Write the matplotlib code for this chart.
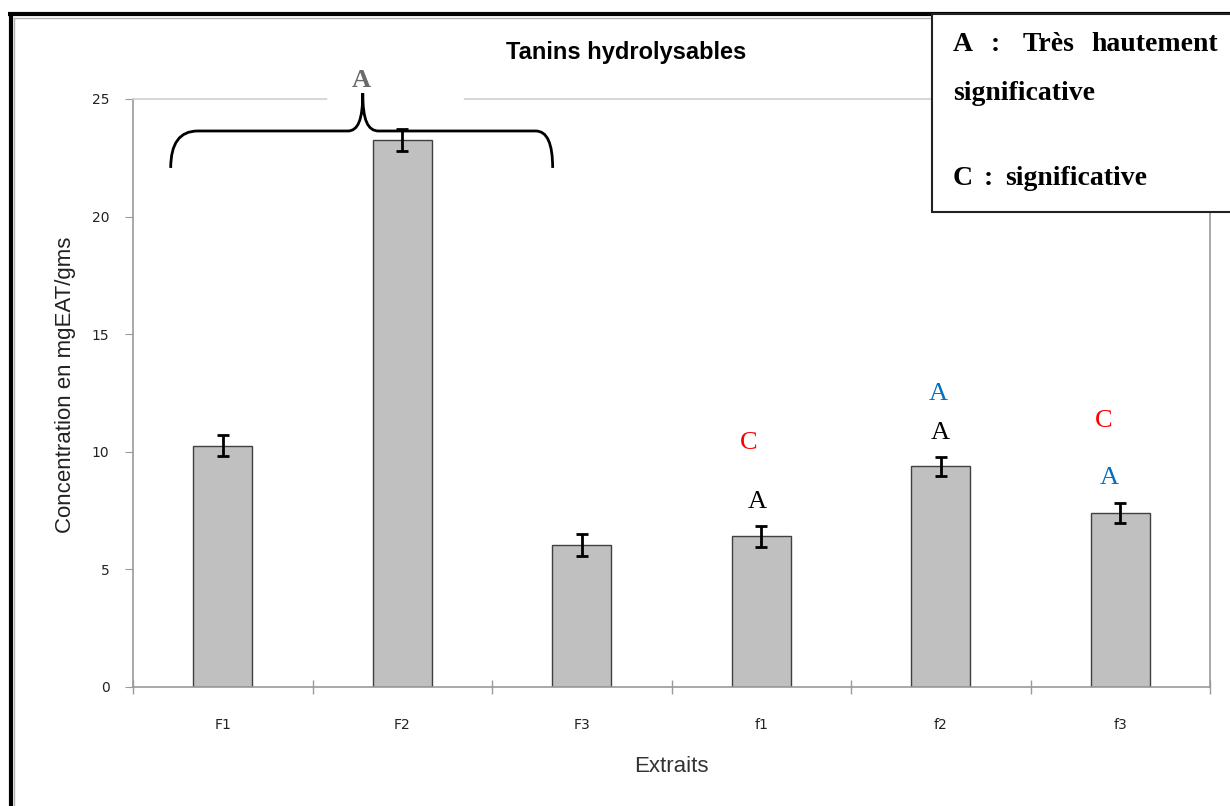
import numpy as np
import matplotlib
matplotlib.use("Agg")
import matplotlib.pyplot as plt
from matplotlib.lines import Line2D
from matplotlib.patches import Rectangle, PathPatch
from matplotlib.path import Path

# ---- data ----
extraits = ["F1", "F2", "F3", "f1", "f2", "f3"]
concentration = [10.26, 23.26, 6.04, 6.40, 9.38, 7.41]
erreur = [0.45, 0.45, 0.48, 0.45, 0.42, 0.43]

# significance letters above the f-extracts: (category index, letter, colour key)
lettres = [
    (3, "A", "noir"), (3, "C", "rouge"),
    (4, "A", "noir"), (4, "A", "bleu"),
    (5, "A", "bleu"), (5, "C", "rouge"),
]

COULEURS = {"noir": "black", "rouge": "#ff0000", "bleu": "#0070c0"}
# offsets (x in categories, y in mg) of each letter above the bar top
DECALAGES = [(-0.02, 1.47), (-0.07, 3.97), (-0.005, 1.42), (-0.015, 3.08),
             (-0.06, 1.48), (-0.09, 3.90)]

W, H = 1230, 806
fx = lambda px: px / W
fy = lambda py: 1 - py / H

fig = plt.figure(figsize=(W / 100, H / 100), dpi=100)
ax = fig.add_axes([fx(133), fy(687), (1210 - 133) / W, (687 - 99) / H])

pos = np.arange(len(extraits))
ax.bar(pos, concentration, width=0.33, color="#c0c0c0", edgecolor="#404040",
       linewidth=1.0, zorder=2)
ax.errorbar(pos, concentration, yerr=erreur, fmt="none", ecolor="black",
            elinewidth=2, capsize=4.5, capthick=2, zorder=3)

ax.set_xlim(-0.5, len(extraits) - 0.5)
ax.set_ylim(0, 25)
ax.set_yticks(np.arange(0, 26, 5))
ax.set_xticks(pos)
ax.set_xticklabels(extraits)
ax.set_xticks(np.arange(-0.5, len(extraits)), minor=True)
ax.tick_params(axis="x", which="major", length=0, pad=22, labelsize=10,
               labelcolor="#222222")
ax.tick_params(axis="x", which="minor", length=10, direction="inout",
               color="#9a9a9a", width=1)
ax.tick_params(axis="y", length=6, direction="out", color="#9a9a9a",
               pad=11, labelsize=10, labelcolor="#222222")
for lab in ax.get_xticklabels() + ax.get_yticklabels():
    lab.set_family("DejaVu Sans")

for side in ("left", "bottom", "right"):
    ax.spines[side].set_color("#9a9a9a")
    ax.spines[side].set_linewidth(1.2)
ax.spines["top"].set_color("#d0d0d0")
ax.spines["top"].set_linewidth(1.2)

ax.set_ylabel("Concentration en mgEAT/gms", fontsize=16,
              family="Liberation Sans", color="#222222")
ax.yaxis.set_label_coords(-0.053, 0.514)
ax.set_xlabel("Extraits", fontsize=16, family="Liberation Sans",
              color="#333333")
ax.xaxis.set_label_coords(0.5, -0.118)

fig.text(fx(626), fy(52), "Tanins hydrolysables", ha="center", va="center",
         fontsize=17, fontweight="bold", family="Liberation Sans")

# letters over f1, f2, f3
for (i, txt, col), (dx, dy) in zip(lettres, DECALAGES):
    ax.text(pos[i] + dx, concentration[i] + dy, txt, ha="center",
            va="center", fontsize=19, family="Liberation Serif",
            color=COULEURS[col], zorder=5)

# brace grouping F1-F3, with a gap cut in the top border for its letter
x0, x1 = pos[0] - 0.29, pos[2] - 0.162
xm = pos[0] + 0.78
yb, yl, yt = 22.07, 23.64, 25.25
verts = [(x0, yb), (x0, yl), (x0 + 0.15, yl),
         (xm - 0.084, yl),
         (xm - 0.028, yl), (xm, yl + 0.45), (xm, yt),
         (xm, yl + 0.45), (xm + 0.028, yl), (xm + 0.089, yl),
         (x1 - 0.094, yl),
         (x1, yl), (x1, yb)]
codes = [Path.MOVETO, Path.CURVE3, Path.CURVE3,
         Path.LINETO,
         Path.CURVE4, Path.CURVE4, Path.CURVE4,
         Path.CURVE4, Path.CURVE4, Path.CURVE4,
         Path.LINETO,
         Path.CURVE3, Path.CURVE3]
ax.add_patch(PathPatch(Path(verts, codes), fill=False, lw=2, ec="black",
                       clip_on=False, zorder=6))
ax.plot([0.6, 1.33], [25, 25], color="white", lw=4, clip_on=False, zorder=4)
ax.text(xm - 0.01, 25.8, "A", ha="center", va="center", fontsize=19,
        fontweight="bold", family="Liberation Serif", color="#6b6b6b",
        clip_on=False)

# outer frame of the page
fig.add_artist(Line2D([fx(8), 1], [fy(14), fy(14)], lw=3, color="black",
                      solid_capstyle="butt"))
fig.add_artist(Line2D([fx(10.5), fx(10.5)], [fy(12.5), 0], lw=3,
                      color="black", solid_capstyle="butt"))
fig.add_artist(Line2D([fx(14), 1], [fy(17.5), fy(17.5)], lw=1,
                      color="#b0b0b0"))
fig.add_artist(Line2D([fx(14), fx(14)], [fy(17.5), 0], lw=1,
                      color="#b0b0b0"))

# key box
fig.add_artist(Rectangle((fx(932), fy(212)), fx(320), (212 - 14) / H,
                         transform=fig.transFigure, facecolor="white",
                         edgecolor="#222222", lw=1.5, zorder=10))
kw = dict(fontsize=20, fontweight="bold", family="Liberation Serif",
          va="baseline", zorder=11)
fig.text(fx(953), fy(51), "A", ha="left", **kw)
fig.text(fx(995), fy(51), ":", ha="center", **kw)
fig.text(fx(1023), fy(51), "Très", ha="left", **kw)
fig.text(fx(1218), fy(51), "hautement", ha="right", **kw)
fig.text(fx(953), fy(100), "significative", ha="left", **kw)
fig.text(fx(953), fy(185), "C", ha="left", **kw)
fig.text(fx(988), fy(185), ":", ha="center", **kw)
fig.text(fx(1005), fy(185), "significative", ha="left", **kw)

fig.savefig("out.png", dpi=100)
